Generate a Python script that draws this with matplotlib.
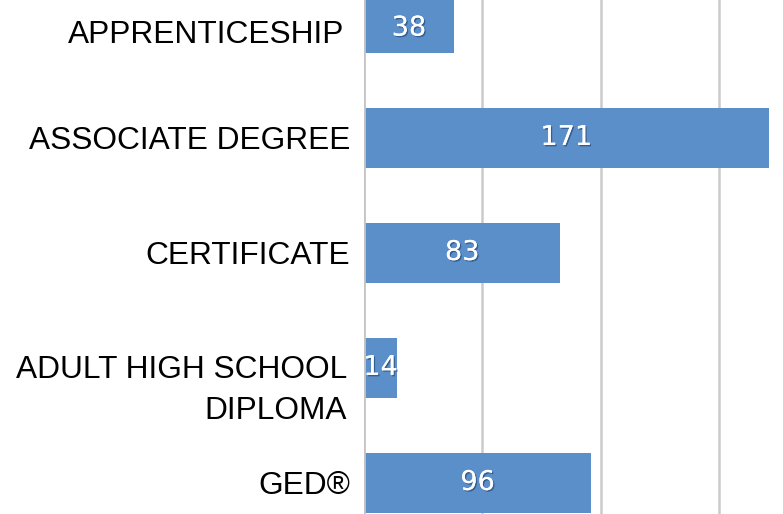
import matplotlib.pyplot as plt
import matplotlib.patheffects as pe

categories = ['APPRENTICESHIP', 'ASSOCIATE DEGREE', 'CERTIFICATE',
              'ADULT HIGH SCHOOL\nDIPLOMA', 'GED®']
counts = [38, 171, 83, 14, 96]
grid_ticks = [50, 100, 150]

W, H = 783, 514
fig = plt.figure(figsize=(W / 100, H / 100), dpi=100)
left_px = 364
ax = fig.add_axes([left_px / W, 0, (W - left_px) / W, 1])

bar_color = '#5b8fca'
ypos = list(range(len(categories)))
ax.barh(ypos, counts, height=0.522, color=bar_color, zorder=2)

# cropped view: top bar is partly cut off, x axis runs past the right edge
ax.set_ylim(4.27, -0.2)
ax.set_xlim(0, (W - left_px) / 2.367)

for g in grid_ticks:
    ax.axvline(g, color='#cbcbcb', lw=1.8, zorder=1)
ax.axvline(0, color='#c4c4c4', lw=2.0, zorder=3)

for s in ax.spines.values():
    s.set_visible(False)
ax.set_xticks([])
ax.set_yticks([])

shadow = [pe.withSimplePatchShadow(offset=(1, -1), shadow_rgbFace='#1d3c66', alpha=0.6),
          pe.Normal()]
for y, v in zip(ypos, counts):
    # label of the cut-off top bar is centred on its visible part
    dy = -4 if y == 0 else 0
    ax.annotate(str(v), (v / 2, y), xytext=(0, dy), textcoords='offset points',
                ha='center', va='center', color='white', fontsize=19.5,
                family='DejaVu Sans', path_effects=shadow, zorder=4)

for y, lab in zip(ypos, categories):
    if '\n' in lab:
        ax.annotate(lab, (0, y), xytext=(-12, 9), textcoords='offset points',
                    ha='right', va='top', fontsize=22.8, family='Liberation Sans',
                    linespacing=1.45, annotation_clip=False)
    else:
        dx, dy = (-14, -8.5) if y == 0 else (-10, -2)
        ax.annotate(lab, (0, y), xytext=(dx, dy), textcoords='offset points',
                    ha='right', va='center', fontsize=22.8, family='Liberation Sans',
                    annotation_clip=False)

fig.savefig('out.png', dpi=100)
